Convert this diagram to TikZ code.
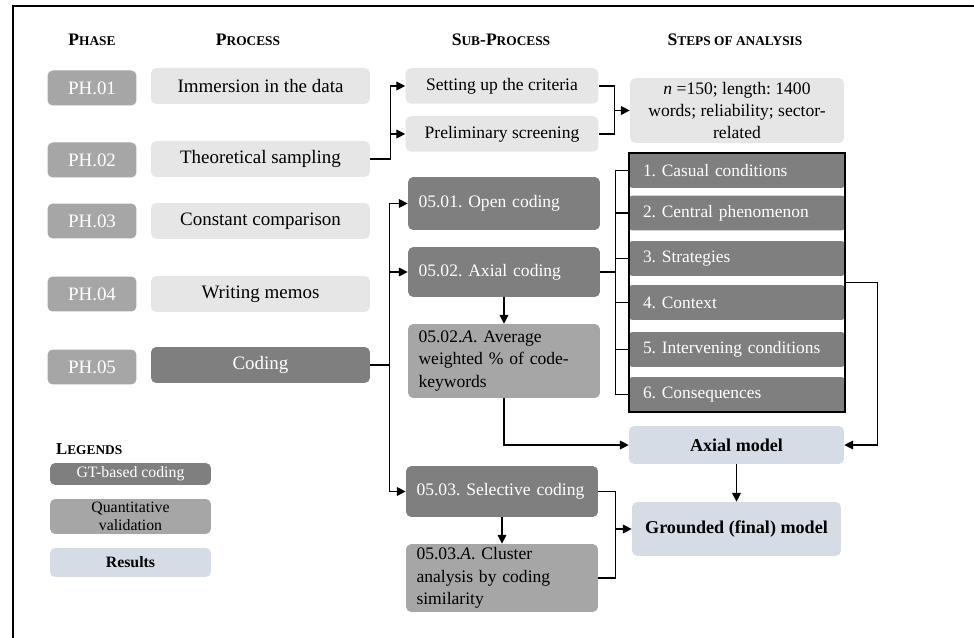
\documentclass[tikz,border=0pt]{standalone}
\usepackage{fontspec}
\setmainfont{Liberation Serif}
\usepackage{xcolor}
\usetikzlibrary{arrows.meta, positioning, fit}

\definecolor{codegray}{HTML}{7F7F7F}
\definecolor{midgray}{HTML}{A6A6A6}
\definecolor{boxgray}{HTML}{E6E6E6}
\definecolor{resultblue}{HTML}{D6DCE5}

\newcommand{\smc}[1]{{\fontsize{7.6}{9}\selectfont #1}}

\begin{document}
\frenchspacing
\begin{tikzpicture}[
    x=0.02cm, y=-0.02cm,
    font=\fontsize{10.8}{12.8}\selectfont,
    box/.style={rectangle, rounded corners=3pt, inner sep=0pt, align=center},
    phase/.style={box, fill=midgray, text=white, minimum width=1.78cm, minimum height=0.7cm},
    process/.style={box, fill=boxgray, minimum width=4.38cm, minimum height=0.72cm},
    subproc/.style={box, fill=boxgray, minimum width=3.86cm, minimum height=0.71cm, font=\fontsize{10}{12.8}\selectfont},
    coding/.style={box, fill=codegray, text=white, text width=3.42cm, inner xsep=0.21cm, align=left, font=\fontsize{10}{12.8}\selectfont},
    quant/.style={box, fill=midgray, text width=3.42cm, inner xsep=0.21cm, align=left, font=\fontsize{10}{12.8}\selectfont},
    stepbox/.style={rectangle, rounded corners=2pt, fill=codegray, text=white, text width=3.76cm, inner xsep=0.28cm, inner ysep=0pt, minimum height=0.7cm, align=left, font=\fontsize{9.9}{12}\selectfont},
    result/.style={box, fill=resultblue, font=\fontsize{10.3}{12.5}\selectfont\bfseries},
    legend/.style={box, minimum width=3.22cm, font=\fontsize{9}{10.5}\selectfont},
    header/.style={font=\fontsize{10}{12}\selectfont\bfseries},
    link/.style={line width=0.6pt},
    arrow/.style={link, -{Triangle[length=5pt,width=5pt]}}
]
    \useasboundingbox (0,0) rectangle (974,638);
    \draw[line width=1.6pt] (13,638) -- (13,6) -- (974,6);

    % Headers
    \node[header] (hphase) at (92,40) {P\smc{HASE}};
    \node[header] (hproc) at (248,40) {P\smc{ROCESS}};
    \node[header] (hsub) at (501,40) {S\smc{UB}-P\smc{ROCESS}};
    \node[header] (hsteps) at (735,40) {S\smc{TEPS OF ANALYSIS}};

    % Phases
    \node[phase] (ph1) at (92,88) {PH.01};
    \node[phase] (ph2) at (92,160) {PH.02};
    \node[phase] (ph3) at (92,221) {PH.03};
    \node[phase] (ph4) at (92,294) {PH.04};
    \node[phase] (ph5) at (92,367) {PH.05};

    % Processes
    \node[process] (immersion) at (260.5,86) {Immersion in the data};
    \node[process] (theo) at (260.5,159) {Theoretical sampling};
    \node[process] (constant) at (260.5,221) {Constant comparison};
    \node[process] (memos) at (260.5,294) {Writing memos};
    \node[process, fill=codegray, text=white] (codingp) at (260.5,365) {Coding};

    % Sub-processes
    \node[subproc] (criteria) at (502,86) {Setting up the criteria};
    \node[subproc] (screening) at (502,134) {Preliminary screening};
    \node[coding, minimum height=1.06cm] (open) at (504,203.5) {05.01. Open coding};
    \node[coding, minimum height=1.0cm] (axial) at (504,272) {05.02. Axial coding};
    \node[quant, minimum height=1.48cm] (average) at (504,361) {05.02.\textit{A}. Average\\weighted \% of code-\\keywords};
    \node[coding, minimum height=1.02cm] (selective) at (502,491.5) {05.03. Selective coding};
    \node[quant, minimum height=1.36cm] (cluster) at (502,578) {05.03.\textit{A}. Cluster\\analysis by coding\\similarity};

    % Steps of analysis
    \node[box, fill=boxgray, minimum width=4.28cm, minimum height=1.3cm, font=\fontsize{10}{12.3}\selectfont] (sample) at (737,110.5) {\textit{n} =150; length: 1400\\words; reliability; sector-\\related};
    \node[stepbox] (s1) at (737,170.5) {1. Casual conditions};
    \node[stepbox] (s2) at (737,213) {2. Central phenomenon};
    \node[stepbox] (s3) at (737,258.5) {3. Strategies};
    \node[stepbox] (s4) at (737,302.5) {4. Context};
    \node[stepbox] (s5) at (737,349.5) {5. Intervening conditions};
    \node[stepbox] (s6) at (737,394.5) {6. Consequences};
    \node[draw, line width=1.1pt, fit=(s1)(s6), inner sep=0pt] (steps) {};
    \node[result, minimum width=4.3cm, minimum height=0.76cm] (axmodel) at (736.5,445) {Axial model};
    \node[result, minimum width=4.18cm, minimum height=1.08cm] (grounded) at (736.5,529) {Grounded (final) model};

    % Legends
    \node[header, anchor=west, font=\fontsize{9.5}{11}\selectfont\bfseries] (hleg) at (50,449) {L\smc{EGENDS}};
    \node[legend, fill=codegray, text=white, minimum height=0.44cm] (leggt) at (130.5,474) {GT-based coding};
    \node[legend, fill=midgray, minimum height=0.7cm] (legquant) at (130.5,516.5) {Quantitative\\validation};
    \node[legend, fill=resultblue, minimum height=0.58cm, font=\fontsize{9}{10.5}\selectfont\bfseries] (legres) at (130.5,562.5) {Results};

    % Arrows
    \coordinate (critjoin) at (615,110.5);
    \coordinate (seljoin) at (615,529);
    \draw[arrow] (theo.east) -- ++(20,0) |- (criteria.west);
    \draw[arrow] (theo.east) -- ++(20,0) |- (screening.west);
    \draw[link] (criteria.east) -- ++(16,0) |- (screening.east);
    \draw[arrow] (critjoin) -- (sample.west);
    \draw[arrow] (codingp.east) -- ++(19,0) |- (open.west);
    \draw[arrow] (codingp.east) -- ++(19,0) |- (axial.west);
    \draw[arrow] (codingp.east) -- ++(19,0) |- (selective.west);
    \foreach \i in {1,...,6}
        \draw[link] (axial.east) -- ++(15,0) |- (s\i.west);
    \draw[arrow] (axial.south) -- (average.north);
    \draw[arrow] (average.south) |- (axmodel.west);
    \draw[arrow] (steps.east) -- ++(31,0) |- (axmodel.east);
    \draw[arrow] (axmodel.south) -- (grounded.north);
    \draw[arrow] (selective.south) -- (cluster.north);
    \draw[link] (selective.east) -- ++(17,0) |- (cluster.east);
    \draw[arrow] (seljoin) -- (grounded.west);
\end{tikzpicture}
\end{document}
